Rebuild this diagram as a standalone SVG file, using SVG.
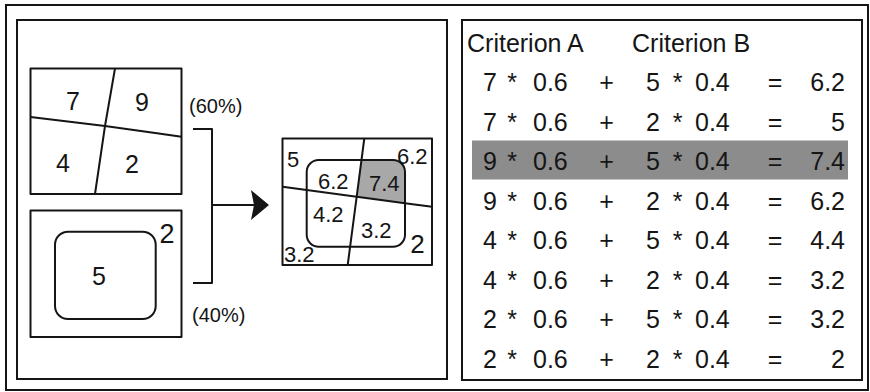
<svg xmlns="http://www.w3.org/2000/svg" width="870" height="392" viewBox="0 0 870 392">
<style>
.frame{fill:none;stroke:#151515;stroke-width:2}
.ln{fill:none;stroke:#151515;stroke-width:2;stroke-linejoin:round}
.t{font-family:"Liberation Sans",Arial,sans-serif;fill:#151515}
.big{font-size:25px}
.mid{font-size:22px}
.pct{font-size:20px}
.row{font-family:"Liberation Sans",Arial,sans-serif;fill:#151515;font-size:25px}
.m{text-anchor:middle}
.e{text-anchor:end}
</style>
<rect x="0" y="0" width="870" height="392" fill="#ffffff"/>
<rect class="frame" x="6" y="5" width="862" height="385"/>
<g id="left-panel">
<rect class="frame" x="17" y="20" width="430" height="359"/>
</g>
<g id="criterionA-map">
<rect class="ln" x="30.5" y="68.5" width="151" height="125.5"/>
<polyline class="ln" points="30.5,117 105,126 157,133.3 181.5,136.7"/>
<polyline class="ln" points="115,68.5 105,126 95,194"/>
<text class="t big m" x="73" y="110">7</text>
<text class="t big m" x="142" y="111">9</text>
<text class="t big m" x="63" y="172">4</text>
<text class="t big m" x="132" y="173">2</text>
</g>
<g id="criterionB-map">
<rect class="ln" x="30.5" y="210.5" width="151" height="126.5"/>
<rect class="ln" x="55" y="231.7" width="100.7" height="87.3" rx="13" ry="13"/>
<text class="t big m" x="99" y="285">5</text>
<text class="t m" style="font-size:27px" x="167" y="243">2</text>
</g>
<g id="weights">
<text class="t pct" x="189" y="113">(60%)</text>
<text class="t pct" x="192" y="322">(40%)</text>
</g>
<g id="connectors">
<polyline class="ln" points="193,129 212,129 212,283 193,283"/>
<line class="ln" x1="212" y1="205" x2="254" y2="205"/>
<polygon points="251,190 269,205 251,220 254,205" fill="#151515"/>
</g>
<g id="result-map">
<path d="M361.5,160 L393,160 Q405,160 405,172 L405,203.3 L356.7,196.7 Z" fill="#a8a8a8"/>
<rect class="ln" x="282.5" y="138.5" width="149.5" height="126.5"/>
<rect class="ln" x="306.7" y="160" width="98.3" height="86.7" rx="12" ry="12"/>
<polyline class="ln" points="364.3,138.5 356.7,196.7 347.7,265"/>
<polyline class="ln" points="282.5,186.7 306.7,190 356.7,196.7 405,203.3 432,206.7"/>
<text class="t mid" x="287" y="167">5</text>
<text class="t mid" x="397" y="164">6.2</text>
<text class="t mid" x="318" y="189">6.2</text>
<text class="t mid" x="369" y="191">7.4</text>
<text class="t mid" x="313" y="222">4.2</text>
<text class="t mid" x="361" y="238">3.2</text>
<text class="t mid" x="284" y="262">3.2</text>
<text class="t m" style="font-size:26px" x="417.5" y="253">2</text>
</g>
<g id="table">
<rect class="frame" x="462" y="20" width="400" height="360"/>
<rect x="472" y="140.5" width="376" height="39" fill="#8c8c8c"/>
<text class="row" x="467" y="52">Criterion A</text>
<text class="row" x="632" y="52">Criterion B</text>
<g id="r1"><text class="row m" x="490" y="91">7</text><text class="row m" x="512" y="91">*</text><text class="row" x="533" y="91">0.6</text><text class="row m" x="606.5" y="91">+</text><text class="row m" x="653" y="91">5</text><text class="row m" x="677.5" y="91">*</text><text class="row" x="695" y="91">0.4</text><text class="row m" x="775" y="91">=</text><text class="row e" x="845" y="91">6.2</text></g>
<g id="r2"><text class="row m" x="490" y="130.5">7</text><text class="row m" x="512" y="130.5">*</text><text class="row" x="533" y="130.5">0.6</text><text class="row m" x="606.5" y="130.5">+</text><text class="row m" x="653" y="130.5">2</text><text class="row m" x="677.5" y="130.5">*</text><text class="row" x="695" y="130.5">0.4</text><text class="row m" x="775" y="130.5">=</text><text class="row e" x="845" y="130.5">5</text></g>
<g id="r3"><text class="row m" x="490" y="170">9</text><text class="row m" x="512" y="170">*</text><text class="row" x="533" y="170">0.6</text><text class="row m" x="606.5" y="170">+</text><text class="row m" x="653" y="170">5</text><text class="row m" x="677.5" y="170">*</text><text class="row" x="695" y="170">0.4</text><text class="row m" x="775" y="170">=</text><text class="row e" x="845" y="170">7.4</text></g>
<g id="r4"><text class="row m" x="490" y="209.5">9</text><text class="row m" x="512" y="209.5">*</text><text class="row" x="533" y="209.5">0.6</text><text class="row m" x="606.5" y="209.5">+</text><text class="row m" x="653" y="209.5">2</text><text class="row m" x="677.5" y="209.5">*</text><text class="row" x="695" y="209.5">0.4</text><text class="row m" x="775" y="209.5">=</text><text class="row e" x="845" y="209.5">6.2</text></g>
<g id="r5"><text class="row m" x="490" y="249">4</text><text class="row m" x="512" y="249">*</text><text class="row" x="533" y="249">0.6</text><text class="row m" x="606.5" y="249">+</text><text class="row m" x="653" y="249">5</text><text class="row m" x="677.5" y="249">*</text><text class="row" x="695" y="249">0.4</text><text class="row m" x="775" y="249">=</text><text class="row e" x="845" y="249">4.4</text></g>
<g id="r6"><text class="row m" x="490" y="288.5">4</text><text class="row m" x="512" y="288.5">*</text><text class="row" x="533" y="288.5">0.6</text><text class="row m" x="606.5" y="288.5">+</text><text class="row m" x="653" y="288.5">2</text><text class="row m" x="677.5" y="288.5">*</text><text class="row" x="695" y="288.5">0.4</text><text class="row m" x="775" y="288.5">=</text><text class="row e" x="845" y="288.5">3.2</text></g>
<g id="r7"><text class="row m" x="490" y="328">2</text><text class="row m" x="512" y="328">*</text><text class="row" x="533" y="328">0.6</text><text class="row m" x="606.5" y="328">+</text><text class="row m" x="653" y="328">5</text><text class="row m" x="677.5" y="328">*</text><text class="row" x="695" y="328">0.4</text><text class="row m" x="775" y="328">=</text><text class="row e" x="845" y="328">3.2</text></g>
<g id="r8"><text class="row m" x="490" y="367.5">2</text><text class="row m" x="512" y="367.5">*</text><text class="row" x="533" y="367.5">0.6</text><text class="row m" x="606.5" y="367.5">+</text><text class="row m" x="653" y="367.5">2</text><text class="row m" x="677.5" y="367.5">*</text><text class="row" x="695" y="367.5">0.4</text><text class="row m" x="775" y="367.5">=</text><text class="row e" x="845" y="367.5">2</text></g>
</g>
</svg>
